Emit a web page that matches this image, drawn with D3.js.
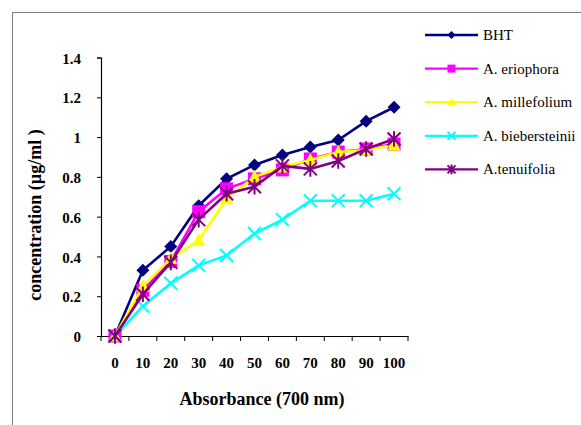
<!DOCTYPE html>
<html>
<head>
<meta charset="utf-8">
<script src="https://cdn.jsdelivr.net/npm/d3@7"></script>
<style>
  body { margin: 0; background: #fff; }
  svg { display: block; font-family: "Liberation Serif", "Times New Roman", serif; }
</style>
</head>
<body>
<div class="chart"></div>
<script>
// data
const categories = ["0", "10", "20", "30", "40", "50", "60", "70", "80", "90", "100"];
const bht = [0, 0.33, 0.45, 0.655, 0.79, 0.86, 0.91, 0.95, 0.985, 1.08, 1.15];
const eriophora = [0, 0.23, 0.375, 0.625, 0.74, 0.79, 0.835, 0.89, 0.925, 0.94, 0.965];
const millefolium = [0, 0.25, 0.39, 0.48, 0.69, 0.8, 0.85, 0.885, 0.925, 0.935, 0.96];
const biebersteinii = [0, 0.15, 0.265, 0.355, 0.405, 0.515, 0.585, 0.68, 0.68, 0.68, 0.715];
const tenuifolia = [0, 0.21, 0.37, 0.585, 0.715, 0.75, 0.855, 0.84, 0.88, 0.94, 0.99];
const yTicks = [0, 0.2, 0.4, 0.6, 0.8, 1, 1.2, 1.4];

const series = [
  { name: "BHT", values: bht, color: "#000080", marker: "diamond" },
  { name: "A. eriophora", values: eriophora, color: "#ff00ff", marker: "square" },
  { name: "A. millefolium", values: millefolium, color: "#ffff00", marker: "triangle" },
  { name: "A. biebersteinii", values: biebersteinii, color: "#00ffff", marker: "cross" },
  { name: "A.tenuifolia", values: tenuifolia, color: "#800080", marker: "star" }
];

const W = 581, H = 425;
const serif = "Liberation Serif";
let svg = d3.select(".chart").append("svg").attr("width", W).attr("height", H);

// outer frame (only left and top edges are visible)
svg.append("rect")
  .attr("x", 12.5).attr("y", 12.5)
  .attr("width", W).attr("height", H)
  .attr("fill", "none").attr("stroke", "#7f7f7f");

// scales
let x = d3.scaleBand().domain(categories).range([101, 408]).padding(0);
let y = d3.scaleLinear().domain([0, 1.4]).range([336, 57.5]);

// y axis
let yAxis = svg.append("g")
  .attr("transform", "translate(101,0)")
  .call(d3.axisLeft(y).tickValues(yTicks).tickSize(4).tickPadding(16)
    .tickFormat(d => String(+d.toFixed(1))));
yAxis.select(".domain").attr("stroke", "#000").attr("stroke-width", 1.2);
yAxis.selectAll("text")
  .attr("font-family", serif).attr("font-size", 15)
  .attr("font-weight", "bold").attr("fill", "#000").attr("dy", "0.38em");

// x axis: labels at band centres, tick marks on band edges
let xAxis = svg.append("g")
  .attr("transform", "translate(0,336)")
  .call(d3.axisBottom(x).tickSize(0).tickPadding(30));
xAxis.select(".domain").attr("stroke", "#000").attr("stroke-width", 1.2);
xAxis.selectAll("text")
  .attr("font-family", serif).attr("font-size", 15)
  .attr("font-weight", "bold").attr("fill", "#000").attr("dy", "0.1em");
xAxis.selectAll(".edge")
  .data(categories.map(c => x(c)).concat([x.range()[1]]))
  .enter().append("line")
  .attr("class", "edge")
  .attr("x1", d => d).attr("x2", d => d)
  .attr("y1", 0).attr("y2", 5)
  .attr("stroke", "#000");

// axis titles
svg.append("text")
  .attr("x", 262).attr("y", 405)
  .attr("text-anchor", "middle")
  .attr("font-family", serif)
  .attr("font-size", 18).attr("font-weight", "bold")
  .text("Absorbance (700 nm)");

svg.append("text")
  .attr("transform", "translate(41,215) rotate(-90)")
  .attr("text-anchor", "middle")
  .attr("font-family", serif)
  .attr("font-size", 18).attr("font-weight", "bold")
  .text("concentration (µg/ml )");

// marker drawing
function drawMarker(g, type, color, s) {
  if (type === "diamond") {
    g.append("path").attr("d", `M0,${-s}L${s},0L0,${s}L${-s},0Z`).attr("fill", color);
  } else if (type === "square") {
    g.append("rect").attr("x", -s).attr("y", -s).attr("width", 2 * s).attr("height", 2 * s).attr("fill", color);
  } else if (type === "triangle") {
    g.append("path").attr("d", `M0,${-s * 1.1}L${s},${s * 0.85}L${-s},${s * 0.85}Z`).attr("fill", color);
  } else if (type === "cross") {
    g.append("path").attr("d", `M${-s},${-s}L${s},${s}M${-s},${s}L${s},${-s}`)
      .attr("stroke", color).attr("stroke-width", 2).attr("fill", "none");
  } else if (type === "star") {
    g.append("path").attr("d", `M${-s},${-s}L${s},${s}M${-s},${s}L${s},${-s}M0,${-s * 1.2}L0,${s * 1.2}`)
      .attr("stroke", color).attr("stroke-width", 2).attr("fill", "none");
  }
}

let line = d3.line()
  .x((d, i) => x(categories[i]) + x.bandwidth() / 2)
  .y(d => y(d));

let plot = svg.append("g");
series.forEach(s => {
  let g = plot.append("g");
  g.append("path")
    .attr("d", line(s.values))
    .attr("fill", "none")
    .attr("stroke", s.color)
    .attr("stroke-width", 2.6);
  s.values.forEach((v, i) => {
    let m = g.append("g")
      .attr("transform", `translate(${x(categories[i]) + x.bandwidth() / 2},${y(v)})`);
    drawMarker(m, s.marker, s.color, s.marker === "square" ? 6.5 : 6.5);
  });
});

// legend
let legend = svg.append("g").attr("transform", "translate(425,35)");
series.forEach((s, i) => {
  let row = legend.append("g").attr("transform", `translate(0,${i * 33.6})`);
  row.append("line")
    .attr("x1", 0).attr("x2", 53).attr("y1", 0).attr("y2", 0)
    .attr("stroke", s.color).attr("stroke-width", 2.3);
  let m = row.append("g").attr("transform", "translate(26.5,0)");
  drawMarker(m, s.marker, s.color, 4);
  row.append("text")
    .attr("x", 58).attr("y", 5)
    .attr("font-family", serif)
    .attr("font-size", 15)
    .text(s.name);
});
</script>
</body>
</html>
